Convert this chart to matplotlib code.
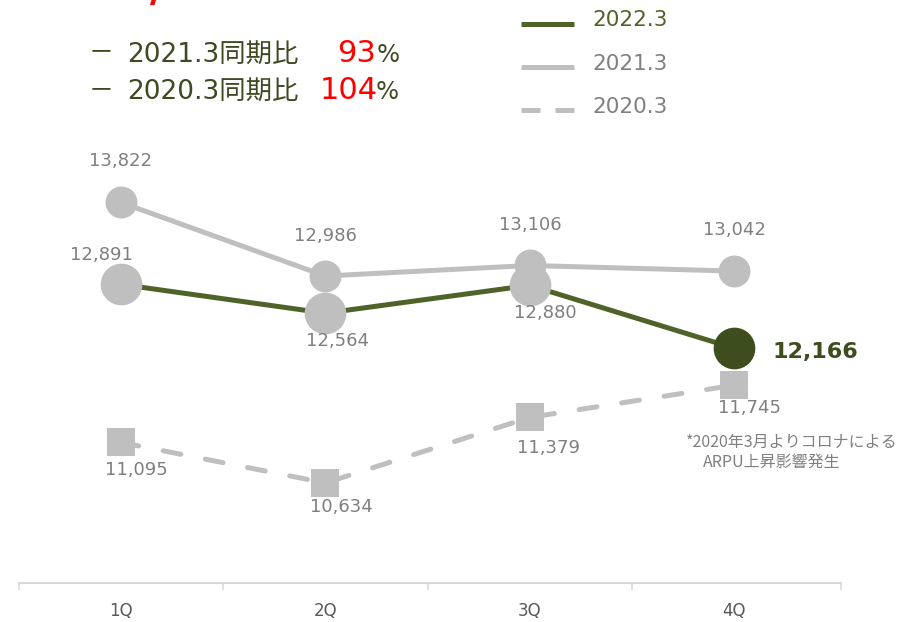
import numpy as np
import matplotlib
matplotlib.use("Agg")
import matplotlib.pyplot as plt
from matplotlib.lines import Line2D

plt.rcParams['font.family'] = ['DejaVu Sans', 'Noto Sans CJK JP']

quarters = ['1Q', '2Q', '3Q', '4Q']
arpu_2022 = [12891, 12564, 12880, 12166]
arpu_2021 = [13822, 12986, 13106, 13042]
arpu_2020 = [11095, 10634, 11379, 11745]
legend_names = ['2022.3', '2021.3', '2020.3']
ratio_names = ['2021.3同期比', '2020.3同期比']
ratio_values = ['93', '104']
note_lines = ['*2020年3月よりコロナによる', 'ARPU上昇影響発生']

W, H = 902, 622
GREEN = '#4F6228'
DARK = '#3D4D1E'
GRAY = '#BFBFBF'
LABEL = '#7F7F7F'
OLIVE = '#3F4A22'

fig = plt.figure(figsize=(W / 100, H / 100), dpi=100)
ax = fig.add_axes([19 / W, (H - 583) / H, 822 / W, 583 / H])
x = np.arange(len(quarters))

def px(v):
    return v * 0.72

# 2020.3 dashed with squares
ax.plot(x, arpu_2020, color=GRAY, lw=3.6, dashes=(3.6, 5.0),
        dash_capstyle='round', zorder=2, clip_on=False)
ax.plot(x, arpu_2020, ls='none', marker='s', ms=19.5, color=GRAY,
        mew=0, zorder=3, clip_on=False)

# 2021.3 gray line with circles
ax.plot(x, arpu_2021, color=GRAY, lw=3.6, solid_capstyle='butt',
        marker='o', ms=23, mew=0, zorder=3, clip_on=False)

# 2022.3 green line, gray markers except last
ax.plot(x, arpu_2022, color=GREEN, lw=3.6, zorder=4, clip_on=False)
marker_colors = [GRAY, GRAY, GRAY, DARK]
for xi, yi, c in zip(x, arpu_2022, marker_colors):
    ax.plot(xi, yi, marker='o', ms=30, color=c, mew=0, zorder=5, clip_on=False)

# data labels (pixel offsets)
off_2021 = [(0, 41), (0, 40), (1, 40), (0, 41)]
off_2022 = [(-20, 29), (12, -28), (16, -28)]
off_2020 = [(15, -28), (16, -24), (19, -31), (15, -23)]
for vals, offs in [(arpu_2021, off_2021), (arpu_2022[:3], off_2022), (arpu_2020, off_2020)]:
    for xi, v, (dx, dy) in zip(x, vals, offs):
        ax.annotate(f'{v:,}', (xi, v), xytext=(px(dx), px(dy)),
                    textcoords='offset points', ha='center', va='center',
                    fontsize=13, color=LABEL, zorder=6)
ax.annotate(f'{arpu_2022[3]:,}', (x[3], arpu_2022[3]), xytext=(px(81), px(-4)),
            textcoords='offset points', ha='center', va='center',
            fontsize=16, fontweight='bold', color=DARK, zorder=6)

# category centres sit at 121..734 px, axis runs 19..841 px
step = (734 - 121) / 3
x_lo = -(121 - 19) / step
x_hi = (841 - 121) / step
ax.set_xlim(x_lo, x_hi)
ax.set_ylim(9497, 16123)
for s in ['top', 'left', 'right']:
    ax.spines[s].set_visible(False)
ax.spines['bottom'].set_color('#D9D9D9')
ax.spines['bottom'].set_linewidth(1.5)
ax.set_yticks([])
ax.set_xticks(x)
ax.set_xticklabels(quarters, fontsize=12, color='#595959')
ax.tick_params(axis='x', length=0, pad=14)
ax.set_xticks([x_lo, 0.5, 1.5, 2.5, x_hi], minor=True)
ax.tick_params(axis='x', which='minor', length=5, width=1.2, color='#D9D9D9', direction='out')

# legend drawn by hand
def fx(p):
    return p / W

def fy(p):
    return 1 - p / H

leg_style = [dict(color=GREEN), dict(color=GRAY), dict(color=GRAY, dashes=(3.8, 3.0))]
leg_y = [23.5, 66.5, 110]
leg_text_col = [GREEN, '#808080', '#808080']
for name, st, yy, tc in zip(legend_names, leg_style, leg_y, leg_text_col):
    fig.add_artist(Line2D([fx(521), fx(574)], [fy(yy), fy(yy)], lw=3.6,
                          solid_capstyle='butt', dash_capstyle='butt', **st))
    fig.text(fx(592), fy(yy + 3), name, fontsize=15.5, color=tc,
             ha='left', va='baseline')

# comparison text top left
base_y = [61.5, 99]
red_x = [337, 320]
for name, val, by, rx in zip(ratio_names, ratio_values, base_y, red_x):
    fig.text(fx(89), fy(by - 2), '－', fontsize=18, color=OLIVE, ha='left',
             va='baseline', family=['Noto Sans CJK JP'])
    fig.text(fx(127), fy(by), name, fontsize=19, color=OLIVE, ha='left', va='baseline')
    fig.text(fx(rx), fy(by), val, fontsize=22, color='#FF0000', ha='left', va='baseline')
    fig.text(fx(rx + (40 if len(val) == 2 else 56)), fy(by), '%', fontsize=17.5,
             color=OLIVE, ha='left', va='baseline')

# cut-off title glyph at very top
fig.text(fx(150), fy(1), '/', fontsize=30, fontweight='bold', color='#FF0000',
         ha='left', va='baseline')

# note
fig.text(fx(686), fy(442), note_lines[0], fontsize=11.5, color='#808080',
         ha='left', va='center', family=['Noto Sans CJK JP'])
fig.text(fx(703), fy(462), note_lines[1], fontsize=11.5, color='#808080',
         ha='left', va='center', family=['Noto Sans CJK JP'])

fig.savefig('out.png', dpi=100)
